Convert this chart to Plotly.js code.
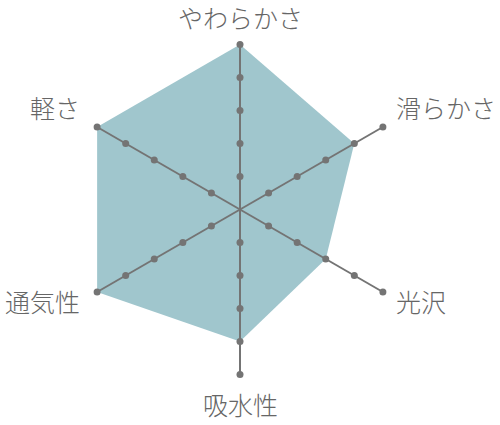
<!DOCTYPE html>
<html><head><meta charset="utf-8">
<script src="https://cdn.plot.ly/plotly-3.0.1.min.js"></script>
<style>html,body{margin:0;padding:0;background:#fff}#chart{width:500px;height:425px}</style>
</head><body><div id="chart"></div>
<script>
const categories = ['やわらかさ','滑らかさ','光沢','吸水性','通気性','軽さ'];
const values = [5, 4, 3, 4, 5, 5];
const levels = [1, 2, 3, 4, 5];
const maxLevel = 5;

const W = 500, H = 425;
const cx = 240, cy = 209.5, R = 165;

const fillTrace = {
  type: 'scatterpolar',
  r: values.concat([values[0]]),
  theta: categories.concat([categories[0]]),
  mode: 'lines',
  fill: 'toself',
  fillcolor: '#a0c6cd',
  line: {width: 0, color: 'rgba(0,0,0,0)'},
  hoverinfo: 'skip'
};
const spokeR = [], spokeT = [];
categories.forEach(c => { spokeR.push(0, maxLevel, null); spokeT.push(c, c, null); });
const spokes = {
  type: 'scatterpolar', r: spokeR, theta: spokeT, mode: 'lines',
  line: {color: '#747474', width: 2}, connectgaps: false, hoverinfo: 'skip'
};
const dotR = [], dotT = [];
categories.forEach(c => levels.forEach(l => { dotR.push(l); dotT.push(c); }));
const dots = {
  type: 'scatterpolar',
  r: dotR, theta: dotT, mode: 'markers',
  marker: {size: 7, color: '#747474'},
  hoverinfo: 'skip'
};

const annotations = categories.map((c, i) => {
  const a = i * Math.PI / 3;
  const s = Math.sin(a), co = Math.cos(a);
  const ex = cx + R * s, ey = cy - R * co;
  let xanchor = 'center', xshift = 0, yshift;
  if (Math.abs(s) < 0.01) {
    yshift = co > 0 ? 28 : -29;
  } else {
    xanchor = s > 0 ? 'left' : 'right';
    xshift = s > 0 ? 11 : -15;
    yshift = co > 0 ? 20 : -9;
  }
  return {
    text: c, xref: 'paper', yref: 'paper', x: ex / W, y: 1 - ey / H,
    xanchor: xanchor, yanchor: 'middle', xshift: xshift, yshift: yshift,
    showarrow: false, font: {size: 25, color: '#666', weight: 300}
  };
});

const layout = {
  width: W, height: H,
  margin: {l: 0, r: 0, t: 0, b: 0},
  showlegend: false,
  paper_bgcolor: '#fff',
  font: {family: '"Noto Sans CJK JP", sans-serif', color: '#666'},
  annotations: annotations,
  polar: {
    domain: {x: [(cx - R) / W, (cx + R) / W], y: [(H - cy - R) / H, (H - cy + R) / H]},
    bgcolor: 'rgba(0,0,0,0)',
    radialaxis: {range: [0, maxLevel], visible: false, showgrid: false},
    angularaxis: {
      rotation: 90, direction: 'clockwise',
      showline: false, showgrid: false, showticklabels: false, ticks: ''
    }
  }
};
Plotly.newPlot('chart', [fillTrace, spokes, dots], layout, {displayModeBar: false, staticPlot: true});
</script></body></html>
